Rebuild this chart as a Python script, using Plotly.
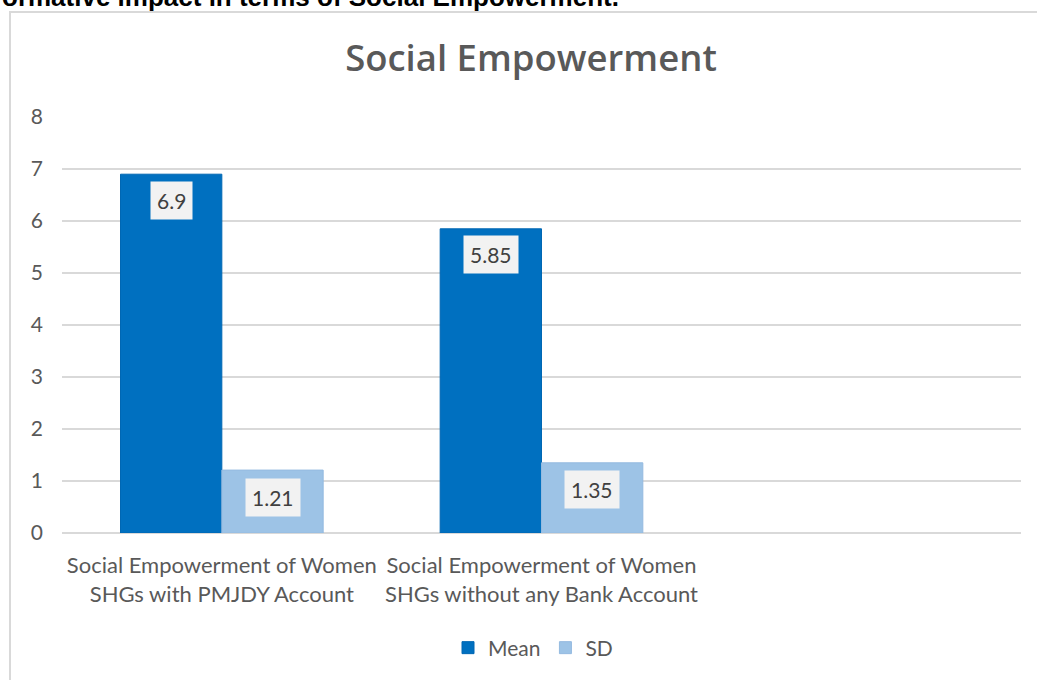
import plotly.graph_objects as go

categories = ["Social Empowerment of Women<br>SHGs with PMJDY Account",
              "Social Empowerment of Women<br>SHGs without any Bank Account"]
mean_values = [6.9, 5.85]
sd_values = [1.21, 1.35]
y_ticks = [0, 1, 2, 3, 4, 5, 6, 7, 8]

W, H = 1037, 680
FONT = "Lato, Carlito, Calibri, 'Open Sans', sans-serif"
GRAY = "#595959"

x_pos = list(range(len(categories)))
bar_w = 0.317

fig = go.Figure()
fig.add_trace(go.Bar(name="Mean", x=x_pos, y=mean_values, width=bar_w,
                     marker=dict(color="#0070C0", line=dict(color="#0067B3", width=1))))
fig.add_trace(go.Bar(name="SD", x=x_pos, y=sd_values, width=bar_w,
                     marker=dict(color="#9DC3E6", line=dict(color="#94BAE0", width=1))))

annotations = []
for i, v in enumerate(mean_values):
    annotations.append(dict(x=x_pos[i] - bar_w / 2, y=v, xref="x", yref="y",
                            text=str(v), showarrow=False, yanchor="middle", yshift=-26,
                            bgcolor="#F2F2F2", borderpad=6,
                            font=dict(family=FONT, size=21, color="#404040")))
for i, v in enumerate(sd_values):
    annotations.append(dict(x=x_pos[i] + bar_w / 2, y=v, xref="x", yref="y",
                            text=str(v), showarrow=False, yanchor="middle", yshift=-27,
                            bgcolor="#F2F2F2", borderpad=6,
                            font=dict(family=FONT, size=21, color="#404040")))
annotations.append(dict(x=0, y=1, xref="paper", yref="paper", xanchor="left", yanchor="bottom",
                        yshift=-14, text="<b>ormative impact in terms of Social Empowerment.</b>",
                        showarrow=False,
                        font=dict(family="Liberation Sans, Arial", size=26, color="#000000")))

fig.update_layout(
    width=W, height=H,
    margin=dict(l=0, r=0, t=0, b=0, autoexpand=False),
    paper_bgcolor="white", plot_bgcolor="white",
    barmode="group", bargap=0.366, bargroupgap=0,
    title=dict(text="Social Empowerment", x=531 / W, xanchor="center",
               y=(H - 58) / H, yanchor="middle",
               font=dict(family="'Open Sans', Lato, sans-serif", size=36.5, color=GRAY, weight=600)),
    font=dict(family=FONT, color=GRAY),
    xaxis=dict(domain=[62 / W, 1021 / W], range=[-0.5, 2.5],
               tickmode="array", tickvals=x_pos, ticktext=categories,
               showgrid=False, zeroline=False, showline=False,
               ticks="", ticklabelstandoff=17, automargin=False,
               tickfont=dict(family=FONT, size=22, color=GRAY)),
    yaxis=dict(domain=[(H - 533) / H, (H - 117) / H], range=[0, 8],
               tickmode="array", tickvals=y_ticks,
               showgrid=True, gridcolor="#D9D9D9", gridwidth=1.5,
               zeroline=True, zerolinecolor="#D9D9D9", zerolinewidth=1.5,
               showline=False, ticks="", ticklabelstandoff=18, automargin=False,
               tickfont=dict(family=FONT, size=21, color=GRAY)),
    legend=dict(orientation="h", x=533 / W, xanchor="center", y=(H - 648) / H, yanchor="middle",
                font=dict(family=FONT, size=21, color=GRAY), itemwidth=30),
    annotations=annotations,
    shapes=[dict(type="rect", xref="paper", yref="paper",
                 x0=10 / W, x1=1.05, y0=-0.05, y1=(H - 12) / H,
                 line=dict(color="#D9D9D9", width=2), fillcolor="rgba(0,0,0,0)", layer="below")],
)

fig.write_html("out.html", config={"displayModeBar": False},
               post_script="document.body.style.margin='0';")
